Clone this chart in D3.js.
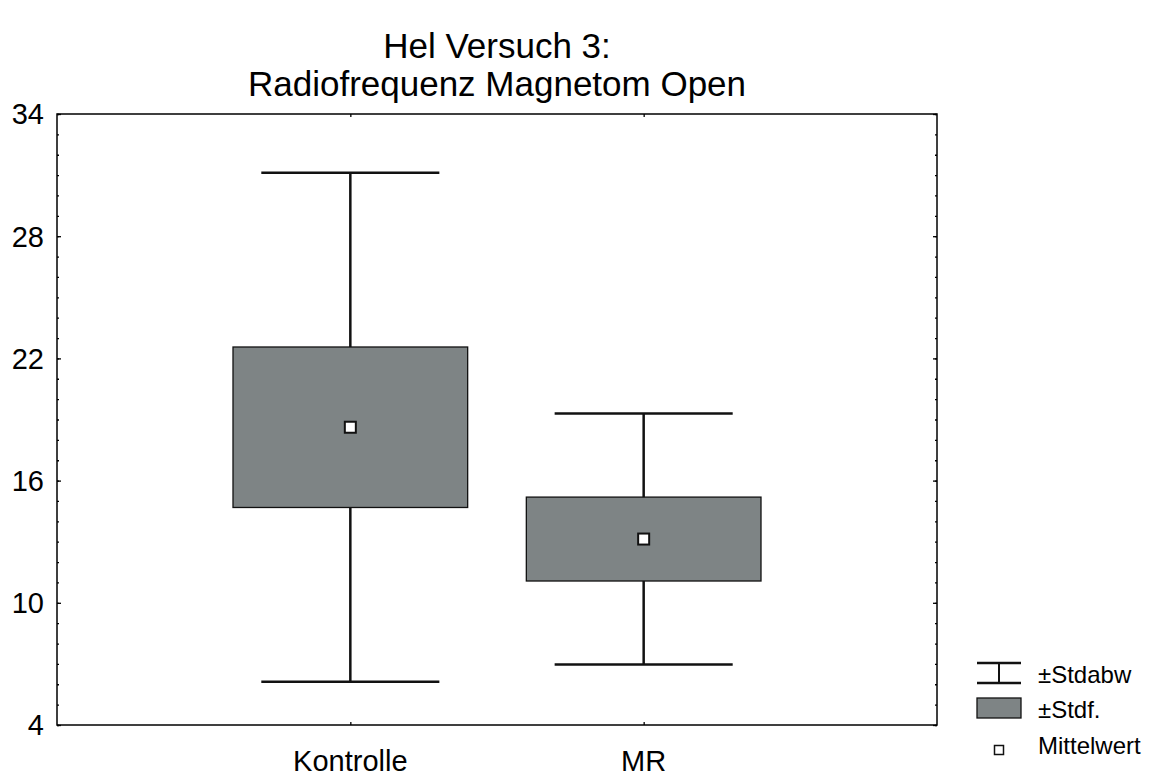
<!DOCTYPE html>
<html>
<head>
<meta charset="utf-8">
<script src="https://cdn.jsdelivr.net/npm/d3@7"></script>
<style>
  html, body { margin: 0; padding: 0; background: #fff; }
  svg { display: block; font-family: "Liberation Sans", Arial, Helvetica, sans-serif; }
</style>
</head>
<body>
<svg id="chart" width="1154" height="776"></svg>
<script>
// ---- data ----
const titleLines = ["Hel Versuch 3:", "Radiofrequenz Magnetom Open"];
const categories = ["Kontrolle", "MR"];
const means = [18.62, 13.13];
const stdErrs = [3.94, 2.06];
const stdDevs = [12.5, 6.16];
const yTicks = [4, 10, 16, 22, 28, 34];
const yMinorTicks = d3.range(4, 35, 1);
const legendLabels = ["±Stdabw", "±Stdf.", "Mittelwert"];

// ---- layout ----
const plot = { left: 57, right: 937, top: 114, bottom: 725 };
const boxFill = "#7e8485";

const svg = d3.select("#chart");

const x = d3.scalePoint().domain(categories).range([plot.left, plot.right]).padding(1);
const y = d3.scaleLinear().domain([4, 34]).range([plot.bottom, plot.top]);
const step = x.step();
const boxW = step * 0.8;
const capW = step * 0.607;

// title
svg.append("g").selectAll("text").data(titleLines).join("text")
  .attr("x", 497).attr("y", (d, i) => 58 + i * 38)
  .attr("text-anchor", "middle").attr("font-size", 35).attr("fill", "#000")
  .text(d => d);

// axes ticks (inside)
const axL = svg.append("g").attr("transform", `translate(${plot.left},0)`);
axL.call(d3.axisRight(y).tickValues(yMinorTicks).tickSize(2).tickFormat(""));
axL.append("g").call(d3.axisRight(y).tickValues(yTicks).tickSize(4).tickFormat(""));
const axR = svg.append("g").attr("transform", `translate(${plot.right},0)`);
axR.call(d3.axisLeft(y).tickValues(yMinorTicks).tickSize(2).tickFormat(""));
axR.append("g").call(d3.axisLeft(y).tickValues(yTicks).tickSize(4).tickFormat(""));
const axB = svg.append("g").attr("transform", `translate(0,${plot.bottom})`);
axB.call(d3.axisTop(x).tickSize(3).tickFormat(""));
const axT = svg.append("g").attr("transform", `translate(0,${plot.top})`);
axT.call(d3.axisBottom(x).tickSize(3).tickFormat(""));
svg.selectAll(".domain").remove();
svg.selectAll(".tick line").attr("stroke", "#000").attr("stroke-width", 1.3);

// y tick labels
svg.append("g").selectAll("text").data(yTicks).join("text")
  .attr("x", 44).attr("y", d => y(d)).attr("dy", "0.36em")
  .attr("text-anchor", "end").attr("font-size", 29).text(d => d);

// x labels
svg.append("g").selectAll("text").data(categories).join("text")
  .attr("x", d => x(d)).attr("y", 771)
  .attr("text-anchor", "middle").attr("font-size", 29).text(d => d);

// frame
svg.append("rect")
  .attr("x", plot.left).attr("y", plot.top)
  .attr("width", plot.right - plot.left).attr("height", plot.bottom - plot.top)
  .attr("fill", "none").attr("stroke", "#000").attr("stroke-width", 1.5);

// boxes
const data = categories.map((c, i) => ({ c, m: means[i], se: stdErrs[i], sd: stdDevs[i] }));
const g = svg.append("g");
data.forEach(d => {
  const cx = x(d.c);
  g.append("line").attr("x1", cx).attr("x2", cx)
    .attr("y1", y(d.m + d.sd)).attr("y2", y(d.m - d.sd))
    .attr("stroke", "#111").attr("stroke-width", 2.5);
  [d.m + d.sd, d.m - d.sd].forEach(v => {
    g.append("line").attr("x1", cx - capW / 2).attr("x2", cx + capW / 2)
      .attr("y1", y(v)).attr("y2", y(v))
      .attr("stroke", "#111").attr("stroke-width", 2.5);
  });
  g.append("rect").attr("x", cx - boxW / 2).attr("width", boxW)
    .attr("y", y(d.m + d.se)).attr("height", y(d.m - d.se) - y(d.m + d.se))
    .attr("fill", boxFill).attr("stroke", "#111").attr("stroke-width", 1.3);
  g.append("rect").attr("x", cx - 5.5).attr("y", y(d.m) - 5.5)
    .attr("width", 11).attr("height", 11)
    .attr("fill", "#fff").attr("stroke", "#111").attr("stroke-width", 2);
});

// legend
const lg = svg.append("g");
const lx = 977, lw = 44;
lg.append("line").attr("x1", lx).attr("x2", lx + lw).attr("y1", 663).attr("y2", 663).attr("stroke", "#111").attr("stroke-width", 2.5);
lg.append("line").attr("x1", lx).attr("x2", lx + lw).attr("y1", 683).attr("y2", 683).attr("stroke", "#111").attr("stroke-width", 2.5);
lg.append("line").attr("x1", lx + lw / 2).attr("x2", lx + lw / 2).attr("y1", 663).attr("y2", 683).attr("stroke", "#111").attr("stroke-width", 2);
lg.append("rect").attr("x", lx).attr("y", 698).attr("width", lw).attr("height", 20)
  .attr("fill", boxFill).attr("stroke", "#111").attr("stroke-width", 1.3);
lg.append("rect").attr("x", 994.5).attr("y", 745.5).attr("width", 9).attr("height", 9)
  .attr("fill", "#fff").attr("stroke", "#111").attr("stroke-width", 1.5);
lg.selectAll("text").data(legendLabels).join("text")
  .attr("x", 1038).attr("y", (d, i) => [683, 718, 754][i])
  .attr("font-size", 24).text(d => d);
</script>
</body>
</html>
